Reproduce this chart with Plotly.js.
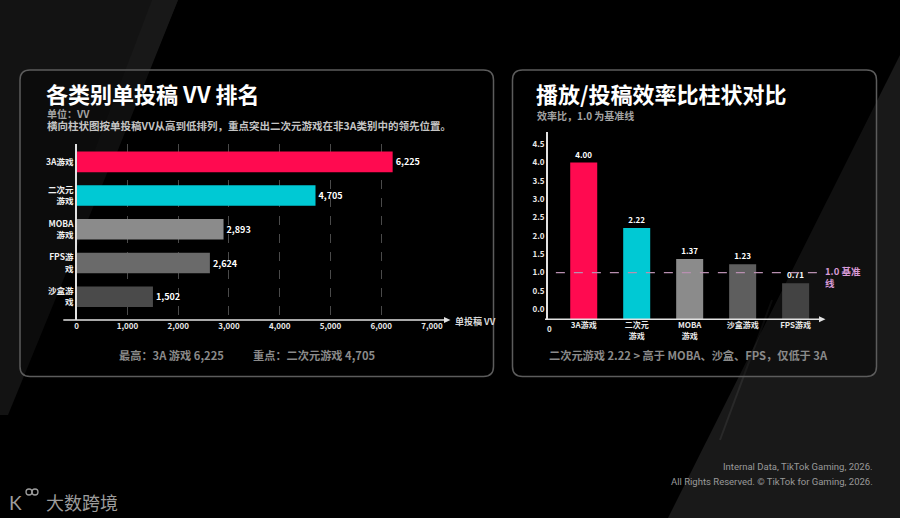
<!DOCTYPE html>
<html>
<head>
<meta charset="utf-8">
<script src="https://cdn.plot.ly/plotly-3.0.1.min.js"></script>
<style>
html,body{margin:0;padding:0;background:#000;}
#chart{width:900px;height:518px;}
</style>
</head>
<body>
<div id="chart"></div>
<script>
// ---------- data ----------
const vvCategories = ['3A游戏', '二次元游戏', 'MOBA游戏', 'FPS游戏', '沙盒游戏'];
const vvTickLabels = ['3A游戏', '二次元<br>游戏', 'MOBA<br>游戏', 'FPS游<br>戏', '沙盒游<br>戏'];
const vvValues = [6225, 4705, 2893, 2624, 1502];
const vvTicks = [0, 1000, 2000, 3000, 4000, 5000, 6000, 7000];
const vvTickText = ['0', '1,000', '2,000', '3,000', '4,000', '5,000', '6,000', '7,000'];

const ratioCategories = ['3A游戏', '二次元游戏', 'MOBA游戏', '沙盒游戏', 'FPS游戏'];
const ratioTickLabels = ['3A游戏', '二次元<br>游戏', 'MOBA<br>游戏', '沙盒游戏', 'FPS游戏'];
const ratioValues = [4.00, 2.22, 1.37, 1.23, 0.71];
const ratioTicks = [0, 0.5, 1.0, 1.5, 2.0, 2.5, 3.0, 3.5, 4.0, 4.5];
const baselineValue = 1.0;

// ---------- styles ----------
const vvColors = ['#FF0A50', '#00C9D4', '#8b8b8b', '#6a6a6a', '#4a4a4a'];
const ratioColors = ['#FF0A50', '#00C9D4', '#8b8b8b', '#5e5e5e', '#434343'];
const CJK = '"Noto Sans CJK SC", "Noto Sans", sans-serif';
const W = 900, H = 518;
const ratioAxisMin = -0.27;

const px = x => x / W;
const py = y => 1 - y / H;

function rrect(x0, y0, x1, y1, r) {
  const X = v => px(v).toFixed(5), Y = v => py(v).toFixed(5);
  return `M${X(x0 + r)},${Y(y0)} L${X(x1 - r)},${Y(y0)} Q${X(x1)},${Y(y0)} ${X(x1)},${Y(y0 + r)} ` +
         `L${X(x1)},${Y(y1 - r)} Q${X(x1)},${Y(y1)} ${X(x1 - r)},${Y(y1)} ` +
         `L${X(x0 + r)},${Y(y1)} Q${X(x0)},${Y(y1)} ${X(x0)},${Y(y1 - r)} ` +
         `L${X(x0)},${Y(y0 + r)} Q${X(x0)},${Y(y0)} ${X(x0 + r)},${Y(y0)} Z`;
}
function poly(pts) {
  return 'M' + pts.map(p => px(p[0]).toFixed(5) + ',' + py(p[1]).toFixed(5)).join(' L') + ' Z';
}

// ---------- traces ----------
const vvTrace = {
  type: 'bar', orientation: 'h',
  x: vvValues, y: vvCategories,
  xaxis: 'x', yaxis: 'y',
  width: 0.61,
  marker: {color: vvColors, line: {width: 0}},
  text: vvValues.map(v => v.toLocaleString('en-US')),
  textposition: 'outside', cliponaxis: false,
  textfont: {family: CJK, size: 9, color: '#ffffff', weight: 700},
  hoverinfo: 'skip'
};
const ratioTrace = {
  type: 'bar',
  x: ratioCategories, y: ratioValues.map(v => v - ratioAxisMin),
  base: ratioAxisMin,
  xaxis: 'x2', yaxis: 'y2',
  width: 0.51,
  marker: {color: ratioColors, line: {width: 0}},
  text: ratioValues.map(v => v.toFixed(2)),
  textposition: 'outside', cliponaxis: false,
  textfont: {family: CJK, size: 8, color: '#ffffff', weight: 700},
  hoverinfo: 'skip'
};

// ---------- shapes ----------
const axisColor = '#e2e2e2';
const shapes = [
  // background stripes
  {type: 'path', xref: 'paper', yref: 'paper', layer: 'below', line: {width: 0},
   fillcolor: '#131313', path: poly([[0, 0], [178, 0], [8, 415], [0, 415]])},
  {type: 'path', xref: 'paper', yref: 'paper', layer: 'below', line: {width: 0},
   fillcolor: '#181818', path: poly([[152, 0], [178, 0], [110, 170], [95, 150]])},
  {type: 'path', xref: 'paper', yref: 'paper', layer: 'below', line: {width: 0},
   fillcolor: '#191919', path: poly([[900, 55], [900, 518], [668, 518]])},
  {type: 'line', xref: 'paper', yref: 'paper', layer: 'below',
   x0: px(772), y0: py(300), x1: px(720), y1: py(440), line: {color: 'rgba(255,255,255,0.07)', width: 2}},
  // panels
  {type: 'path', xref: 'paper', yref: 'paper', layer: 'below',
   fillcolor: 'rgba(0,0,0,0.35)', line: {color: '#5c5c5c', width: 1.5},
   path: rrect(20, 70, 493.5, 376.5, 10)},
  {type: 'path', xref: 'paper', yref: 'paper', layer: 'below',
   fillcolor: 'rgba(0,0,0,0.35)', line: {color: '#5c5c5c', width: 1.5},
   path: rrect(512.5, 70, 876.5, 376.5, 10)},
  // left x axis with arrow
  {type: 'line', xref: 'paper', yref: 'paper', x0: px(63.3), x1: px(446), y0: py(320), y1: py(320),
   line: {color: axisColor, width: 1.5}},
  {type: 'path', xref: 'paper', yref: 'paper', fillcolor: axisColor, line: {width: 0},
   path: poly([[444, 317], [450.5, 320], [444, 323]])},
  // right x axis with arrow
  {type: 'line', xref: 'paper', yref: 'paper', x0: px(545), x1: px(821), y0: py(319.3), y1: py(319.3),
   line: {color: axisColor, width: 1.5}},
  {type: 'path', xref: 'paper', yref: 'paper', fillcolor: axisColor, line: {width: 0},
   path: poly([[819, 316.3], [825.5, 319.3], [819, 322.3]])},
  // baseline 1.0
  {type: 'line', xref: 'x2 domain', yref: 'y2', x0: 0.03, x1: 1, y0: baselineValue, y1: baselineValue,
   line: {color: '#b88fb0', width: 1.3, dash: 'dash'}}
];

// ---------- annotations ----------
function txt(text, x, y, size, color, opts) {
  return Object.assign({
    text: text, xref: 'paper', yref: 'paper', x: px(x), y: py(y),
    xanchor: 'left', yanchor: 'middle', showarrow: false,
    font: {family: CJK, size: size, color: color}
  }, opts || {});
}
const annotations = [
  txt('<b>各类别单投稿 VV 排名</b>', 44, 93, 22, '#ffffff'),
  txt('<b>单位：VV</b>', 45, 113.5, 10, '#a3a3a3'),
  txt('<b>横向柱状图按单投稿VV从高到低排列，重点突出二次元游戏在非3A类别中的领先位置。</b>', 45, 126, 10.5, '#c4c4c4'),
  txt('<b>单投稿 VV</b>', 452.5, 321, 9, '#d8d8d8'),
  txt('<b>最高：3A 游戏 6,225</b>', 117, 355, 11.2, '#8a8a8a'),
  txt('<b>重点：二次元游戏 4,705</b>', 251, 355, 11.2, '#8a8a8a'),

  txt('<b>播放/投稿效率比柱状对比</b>', 534, 93, 22, '#ffffff'),
  txt('<b>效率比，1.0 为基准线</b>', 535, 115, 10, '#a3a3a3'),
  txt('<b>0</b>', 549, 328, 8, '#e6e6e6', {xanchor: 'center'}),
  {text: '<b>1.0 基准<br>线</b>', xref: 'x2 domain', yref: 'y2', x: 1.01, y: baselineValue,
   xanchor: 'left', yanchor: 'middle', yshift: -4.5, showarrow: false, align: 'left',
   font: {family: CJK, size: 9.5, color: '#d89ad6'}},
  txt('<b>二次元游戏 2.22 > 高于 MOBA、沙盒、FPS，仅低于 3A</b>', 546.5, 355, 11.2, '#8a8a8a'),

  txt('Internal Data, TikTok Gaming, 2026.', 875, 466.5, 9.5, '#9a9a9a',
      {xanchor: 'right', font: {family: 'Roboto, sans-serif', size: 9.5, color: '#9a9a9a'}}),
  txt('All Rights Reserved. © TikTok for Gaming, 2026.', 875, 481, 9.5, '#9a9a9a',
      {xanchor: 'right', font: {family: 'Roboto, sans-serif', size: 9.5, color: '#9a9a9a'}}),
  txt('大数跨境', 44, 502, 18, '#9c9c9c'),
  txt('K', 7, 502, 19, '#9c9c9c', {font: {family: 'Lato, sans-serif', size: 19, color: '#9c9c9c'}})
];
// logo circles
shapes.push(
  {type: 'circle', xref: 'paper', yref: 'paper', x0: px(26), x1: px(32), y0: py(489), y1: py(495),
   line: {color: '#9c9c9c', width: 1.3}},
  {type: 'circle', xref: 'paper', yref: 'paper', x0: px(32), x1: px(38), y0: py(489), y1: py(495),
   line: {color: '#9c9c9c', width: 1.3}}
);

// ---------- layout ----------
const tickFont = {family: CJK, size: 8, color: '#e8e8e8', weight: 700};
const layout = {
  width: W, height: H,
  margin: {l: 0, r: 0, t: 0, b: 0, pad: 0},
  paper_bgcolor: '#000000', plot_bgcolor: 'rgba(0,0,0,0)',
  showlegend: false,
  font: {family: CJK, color: '#ffffff'},
  xaxis: {
    domain: [px(76.7), px(432)], range: [0, 7000], anchor: 'y',
    tickvals: vvTicks, ticktext: vvTickText, tickfont: tickFont,
    showgrid: true, gridcolor: '#4a4a4a', griddash: 'dash', gridwidth: 1,
    zeroline: false, showline: false, ticks: '', fixedrange: true
  },
  yaxis: {
    domain: [py(320), py(144)], range: [4.69, -0.53], anchor: 'x', type: 'category',
    tickvals: vvCategories, ticktext: vvTickLabels,
    tickfont: {family: CJK, size: 8.5, color: '#f0f0f0', weight: 700},
    showgrid: false, zeroline: false, showline: true, linecolor: axisColor, linewidth: 1.5,
    ticks: '', fixedrange: true
  },
  xaxis2: {
    domain: [px(547.7), px(820)], range: [-0.68, 4.46], anchor: 'y2', type: 'category',
    tickvals: ratioCategories, ticktext: ratioTickLabels, tickfont: tickFont,
    showgrid: false, zeroline: false, showline: false, ticks: '', fixedrange: true
  },
  yaxis2: {
    domain: [py(319.3), py(131.7)], range: [ratioAxisMin, 4.84], anchor: 'x2',
    tickvals: ratioTicks, tickformat: '.1f', tickfont: tickFont,
    showgrid: false, zeroline: false, showline: true, linecolor: axisColor, linewidth: 1.5,
    ticks: '', fixedrange: true
  },
  shapes: shapes,
  annotations: annotations
};

Plotly.newPlot('chart', [vvTrace, ratioTrace], layout, {displayModeBar: false, staticPlot: true});
</script>
</body>
</html>
